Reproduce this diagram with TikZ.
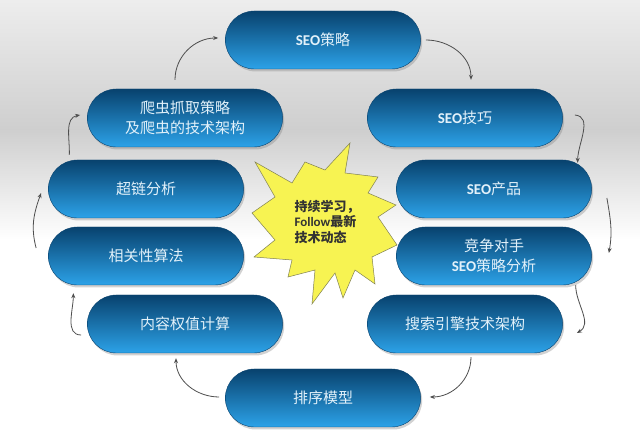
\documentclass[tikz,border=0pt]{standalone}
\usepackage{fontspec}
\setmainfont{Noto Sans CJK SC}
\newfontfamily\latinfont{Carlito}
\usetikzlibrary{arrows.meta, shadows, shapes.misc}
\definecolor{boxtop}{RGB}{8,66,110}
\definecolor{boxbottom}{RGB}{44,162,232}
\definecolor{boxtext}{RGB}{226,241,250}
\definecolor{staryellow}{RGB}{247,243,82}
\definecolor{staredge}{RGB}{128,128,84}
\definecolor{arrowgray}{RGB}{78,78,78}
\newcommand{\seo}{{\latinfont\bfseries SEO}}

\begin{document}
\begin{tikzpicture}[x=1pt, y=1pt,
  topic/.style={rounded rectangle, minimum width=202pt, minimum height=58pt,
    top color=boxtop, bottom color=boxbottom, draw=boxtop, line width=0.4pt,
    drop shadow={shadow xshift=1.5pt, shadow yshift=-2.5pt, opacity=0.35},
    text=boxtext, font=\fontsize{15}{20}\selectfont, align=center},
  turn/.style={arrowgray, line width=0.8pt, -{Stealth[length=5pt, width=4pt]}}]
  \useasboundingbox (0, 0) rectangle (640, 430);
  \fill[white] (0, 0) rectangle (640, 430);
  \shade[top color=gray!14, bottom color=gray!38] (0, 300) rectangle (640, 430);
  \shade[top color=gray!38, bottom color=white] (0, 190) rectangle (640, 300);

  \draw[fill=staryellow, draw=staredge, line width=0.5pt]
    (350, 287) -- (345, 257) -- (378, 253) -- (368, 237) --
    (396, 225) -- (378, 213) -- (397, 185) -- (372, 173) --
    (375, 146) -- (355, 160) -- (343, 132) -- (335, 157) --
    (312, 126) -- (315, 160) -- (288, 153) -- (292, 170) --
    (254, 173) -- (275, 190) -- (252, 217) -- (275, 233) --
    (255, 268) -- (292, 247) -- (305, 268) -- (325, 260) -- cycle;
  \node[align=left, text=black!80, font=\fontsize{13}{15.5}\selectfont\bfseries]
    (slogan) at (327, 208) {持续学习，\\{\latinfont Follow}最新\\技术动态};

  \node[topic] (celue) at (323, 390) {\seo 策略};
  \node[topic] (pachong) at (185, 312) {爬虫抓取策略\\及爬虫的技术架构};
  \node[topic] (jiqiao) at (465, 312) {\seo 技巧};
  \node[topic] (chaolian) at (146, 241) {超链分析};
  \node[topic] (chanpin) at (494, 241) {\seo 产品};
  \node[topic] (xiangguan) at (146, 174) {相关性算法};
  \node[topic] (jingzheng) at (494, 174) {竞争对手\\\seo 策略分析};
  \node[topic] (neirong) at (185, 106) {内容权值计算};
  \node[topic] (jiagou) at (465, 106) {搜索引擎技术架构};
  \node[topic] (paixu) at (323, 32) {排序模型};

  \draw[turn] ([xshift=5pt]celue.east) to[out=0, in=90]
    ([xshift=6pt, yshift=9pt]jiqiao.north);
  \draw[turn] ([xshift=12pt, yshift=3pt]jiqiao.east) to[out=-5, in=90]
    ([xshift=15pt, yshift=-3pt]chanpin.north east);
  \draw[turn] ([xshift=15pt, yshift=-9pt]chanpin.east) to[out=-80, in=80]
    ([xshift=17pt, yshift=3pt]jingzheng.east);
  \draw[turn] ([xshift=13pt]jingzheng.south east) to[out=-90, in=30]
    ([xshift=14pt, yshift=-9pt]jiagou.east);
  \draw[turn] ([xshift=6pt, yshift=-4pt]jiagou.south) to[out=-90, in=0]
    ([xshift=9pt, yshift=1pt]paixu.east);
  \draw[turn] ([xshift=-6pt, yshift=1pt]paixu.west) to[out=180, in=-90]
    ([xshift=-9pt, yshift=-5pt]neirong.south);
  \draw[turn] ([xshift=-6pt, yshift=-11pt]neirong.west) to[out=180, in=-90]
    ([xshift=-4pt, yshift=-8pt]xiangguan.south west);
  \draw[turn] ([xshift=-12pt, yshift=8pt]xiangguan.west) to[out=105, in=-110]
    ([xshift=-7pt, yshift=-4pt]chaolian.west);
  \draw[turn] ([xshift=-8pt, yshift=5pt]chaolian.north west) to[out=88, in=190]
    ([xshift=-7pt, yshift=3pt]pachong.west);
  \draw[turn] ([xshift=-10pt, yshift=9pt]pachong.north) to[out=90, in=180]
    ([xshift=-7pt, yshift=2pt]celue.west);
\end{tikzpicture}
\end{document}
